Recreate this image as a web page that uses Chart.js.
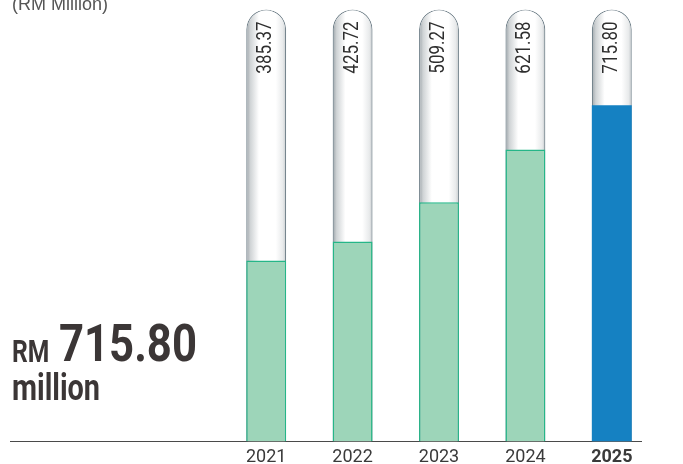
<!DOCTYPE html>
<html>
<head>
<meta charset="utf-8">
<script src="https://cdn.jsdelivr.net/npm/chart.js@4.4.1/dist/chart.umd.min.js"></script>
<style>
  html, body { margin: 0; padding: 0; background: #fff; }
  #wrap { position: relative; width: 683px; height: 464px; overflow: hidden; }
  canvas { position: absolute; left: 0; top: 0; }
  .txt { position: absolute; white-space: nowrap; line-height: 1; transform-origin: 0 0; }
  #unit { left: 12px; top: -6px; font: 18px "Liberation Sans", Arial, sans-serif; color: #555; }
  .big { font-family: Roboto, sans-serif; font-weight: bold; color: #3b3636; }
  #rm { left: 12px; top: 335px; font-size: 32px; transform: scaleX(0.77); }
  #amount { left: 59px; top: 318px; font-size: 52px; transform: scaleX(0.84); }
  #million { left: 12px; top: 369px; font-size: 37px; transform: scaleX(0.78); }
</style>
</head>
<body>
<div id="wrap">
  <canvas id="revenueChart" width="683" height="473"></canvas>
  <div id="unit" class="txt">(RM Million)</div>
  <div id="rm" class="txt big">RM</div>
  <div id="amount" class="txt big">715.80</div>
  <div id="million" class="txt big">million</div>
</div>
<script>
const years = ['2021', '2022', '2023', '2024', '2025']
const revenue = [385.37, 425.72, 509.27, 621.58, 715.80]
const tubeHeight = [920, 920, 920, 920, 920]

const barPct = 0.462

const tubeFill = (c) => {
  const chart = c.chart
  const xs = chart.scales.x
  if (!chart.chartArea || !xs) return '#fff'
  const cx = xs.getPixelForValue(c.dataIndex)
  const half = xs.width / years.length * barPct / 2
  const g = chart.ctx.createLinearGradient(cx - half, 0, cx + half, 0)
  g.addColorStop(0, '#9aa2a7')
  g.addColorStop(0.1, '#cfd3d5')
  g.addColorStop(0.32, '#ffffff')
  g.addColorStop(0.74, '#ffffff')
  g.addColorStop(0.92, '#e8eaeb')
  g.addColorStop(1, '#c2c7ca')
  return g
}

const axisLine = {
  id: 'axisLine',
  beforeDatasetsDraw(chart) {
    const { ctx, chartArea: { bottom } } = chart
    ctx.save()
    ctx.strokeStyle = '#4a4a4a'
    ctx.lineWidth = 1
    ctx.beginPath()
    ctx.moveTo(10, Math.round(bottom) + 0.5)
    ctx.lineTo(642, Math.round(bottom) + 0.5)
    ctx.stroke()
    ctx.restore()
  }
}

const valueLabels = {
  id: 'valueLabels',
  afterDatasetsDraw(chart) {
    const { ctx } = chart
    const meta = chart.getDatasetMeta(1)
    ctx.save()
    ctx.fillStyle = '#2e2e2e'
    ctx.font = '20px Roboto'
    ctx.textAlign = 'right'
    ctx.textBaseline = 'middle'
    meta.data.forEach((el, i) => {
      ctx.save()
      ctx.translate(el.x, el.y + 12)
      ctx.rotate(-Math.PI / 2)
      ctx.scale(0.85, 1)
      ctx.fillText(revenue[i].toFixed(2), 0, 0)
      ctx.restore()
    })
    ctx.restore()
  }
}

new Chart(document.getElementById('revenueChart'), {
  type: 'bar',
  data: {
    labels: years,
    datasets: [
      {
        data: revenue,
        order: 1,
        backgroundColor: revenue.map((v, i) => i === revenue.length - 1 ? '#1581c2' : '#9dd5b9'),
        borderColor: revenue.map((v, i) => i === revenue.length - 1 ? '#1581c2' : '#25b688'),
        borderWidth: revenue.map((v, i) => i === revenue.length - 1 ? 0 : 1.5),
        borderSkipped: 'bottom'
      },
      {
        data: tubeHeight,
        order: 2,
        backgroundColor: tubeFill,
        borderColor: '#76858e',
        borderWidth: 1.2,
        borderRadius: { topLeft: 20, topRight: 20, bottomLeft: 0, bottomRight: 0 },
        borderSkipped: 'bottom'
      }
    ]
  },
  plugins: [axisLine, valueLabels],
  options: {
    responsive: false,
    animation: false,
    datasets: { bar: { grouped: false, barPercentage: barPct, categoryPercentage: 1 } },
    layout: { padding: { left: 223, right: 28, top: 0, bottom: 0 } },
    scales: {
      x: {
        grid: { display: false, drawTicks: false },
        border: { display: false },
        ticks: {
          padding: 5,
          color: '#3a3a3a',
          font: (c) => ({ family: 'Roboto', size: 18, weight: c.index === years.length - 1 ? 'bold' : 'normal' })
        }
      },
      y: { display: false, min: 0, max: 940 }
    },
    plugins: {
      legend: { display: false },
      tooltip: { enabled: false }
    }
  }
})
</script>
</body>
</html>
